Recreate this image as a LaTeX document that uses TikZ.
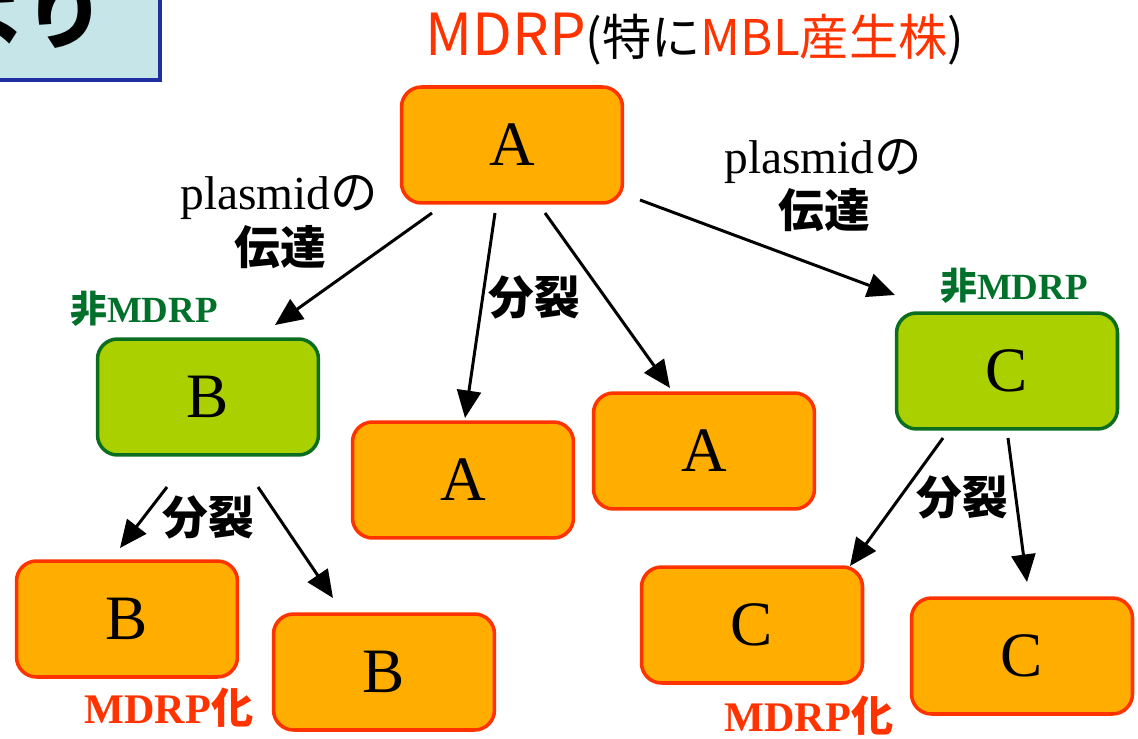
\documentclass[tikz,border=0pt]{standalone}
\usepackage{fontspec}
\setmainfont{Liberation Serif}
\newfontfamily\jp{Noto Sans CJK JP}
\usetikzlibrary{arrows.meta}
\definecolor{boxorange}{HTML}{FFAE00}
\definecolor{boxred}{HTML}{FF3300}
\definecolor{boxlime}{HTML}{AAD000}
\definecolor{boxgreen}{HTML}{0A6E1E}
\definecolor{txtgreen}{HTML}{00702A}
\definecolor{notefill}{HTML}{C5E5E8}
\definecolor{noteblue}{HTML}{1F2FA0}
\begin{document}
\begin{tikzpicture}[x=0.02cm,y=-0.02cm,
    mdrp/.style={draw=boxred,fill=boxorange,line width=2pt,rounded corners=0.4cm,
      minimum width=4.42cm,minimum height=2.32cm,font=\fontsize{36}{36}\selectfont},
    nonmdrp/.style={mdrp,draw=boxgreen,fill=boxlime},
    arr/.style={-{Triangle[length=0.55cm,width=0.48cm]},line width=1.7pt},
    split/.style={font=\jp\bfseries\fontsize{26}{26}\selectfont,inner sep=0pt},
    plas/.style={font=\fontsize{27}{27}\selectfont,inner sep=0pt,anchor=base west},
    nontag/.style={font=\bfseries\fontsize{21}{21}\selectfont,text=txtgreen,inner sep=0pt},
    mdrptag/.style={font=\bfseries\fontsize{24}{24}\selectfont,text=boxred,inner sep=0pt}]
  \useasboundingbox (0,0) rectangle (1138,739);

  % cut-off note box at top left
  \begin{scope}
    \clip (0,0) rectangle (163,83);
    \draw[noteblue,fill=notefill,line width=1.8pt] (-10,-10) rectangle (160,80);
    \node[anchor=east,inner sep=0pt,font=\jp\bfseries\fontsize{46}{46}\selectfont] (note) at (106,12) {より};
  \end{scope}

  % title
  \node[anchor=base west,inner sep=0pt] (title) at (425,56)
    {{\jp\fontsize{33}{33}\selectfont\color{boxred}MDRP}{\jp\fontsize{28}{28}\selectfont (特に{\color{boxred}MBL産生株})}};

  % boxes
  \node[mdrp] (a) at (512,145) {A};
  \node[nonmdrp] (b) at (208,397) {B};
  \node[mdrp] (a1) at (463,480) {A};
  \node[mdrp] (a2) at (704,451) {A};
  \node[nonmdrp] (c) at (1007,371) {C};
  \node[mdrp] (b1) at (127,619) {B};
  \node[mdrp] (b2) at (384,672) {B};
  \node[mdrp] (c1) at (752,625) {C};
  \node[mdrp] (c2) at (1022,656) {C};

  % arrow ends
  \coordinate (ab0) at (432,213); \coordinate (ab1) at (275,325);
  \coordinate (aa10) at (495,213); \coordinate (aa11) at (465,418);
  \coordinate (aa20) at (545,213); \coordinate (aa21) at (670,388);
  \coordinate (ac0) at (640,200); \coordinate (ac1) at (895,295);
  \coordinate (bb10) at (167,487); \coordinate (bb11) at (120,548);
  \coordinate (bb20) at (258,487); \coordinate (bb21) at (333,598);
  \coordinate (cc10) at (943,438); \coordinate (cc11) at (850,566);
  \coordinate (cc20) at (1008,438); \coordinate (cc21) at (1027,582);

  \draw[arr] (ab0) -- (ab1);
  \draw[arr] (aa10) -- (aa11);
  \draw[arr] (aa20) -- (aa21);
  \draw[arr] (ac0) -- (ac1);
  \draw[arr] (bb10) -- (bb11);
  \draw[arr] (bb20) -- (bb21);
  \draw[arr] (cc10) -- (cc11);
  \draw[arr] (cc20) -- (cc21);

  % labels
  \node[plas] (pl1) at (180,210) {plasmid{\jp の}};
  \node[split] (tr1) at (280,247) {伝達};
  \node[plas] (pl2) at (724,174) {plasmid{\jp の}};
  \node[split] (tr2) at (824,210) {伝達};
  \node[nontag] (nb) at (144,309) {{\jp 非}MDRP};
  \node[nontag] (nc) at (1014,286) {{\jp 非}MDRP};
  \node[split] (s1) at (534,297) {分裂};
  \node[split] (s2) at (208,517) {分裂};
  \node[split] (s3) at (962,497) {分裂};
  \node[mdrptag] (m1) at (169,708) {MDRP{\jp 化}};
  \node[mdrptag] (m2) at (809,716) {MDRP{\jp 化}};
\end{tikzpicture}
\end{document}
